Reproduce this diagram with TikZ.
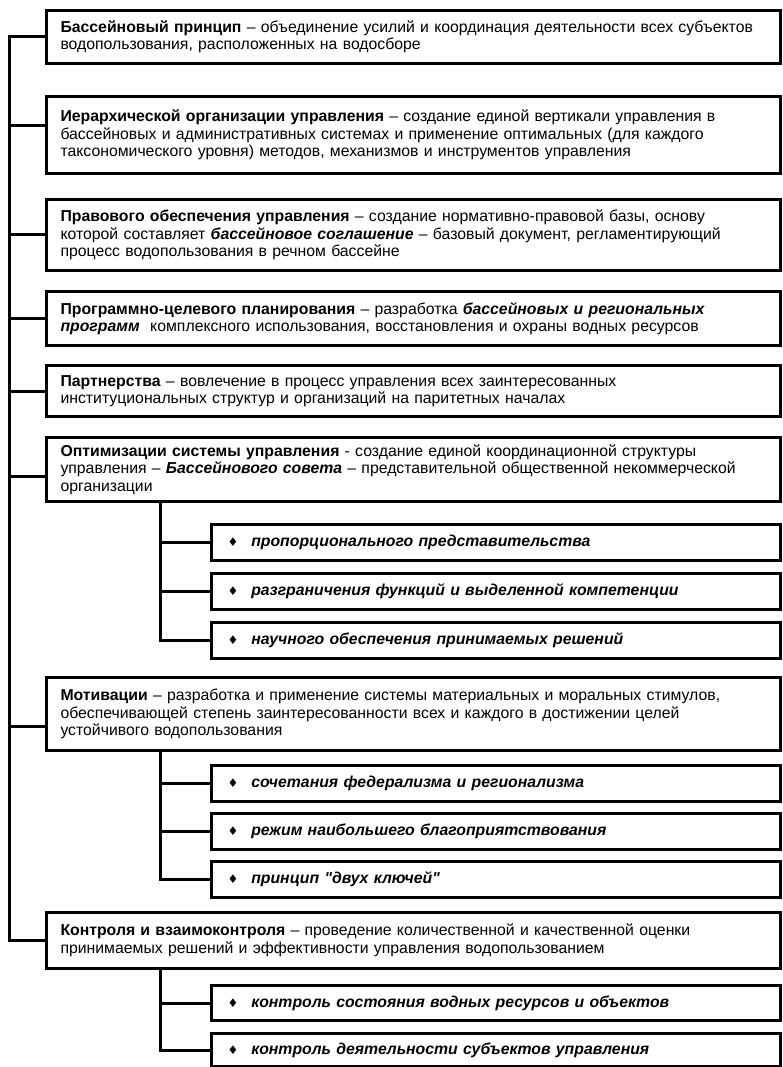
\documentclass[tikz,border=0pt]{standalone}
\usepackage{fontspec}
\setmainfont{Liberation Sans}[Ligatures=TeXOff]
\newfontfamily\symfont{DejaVu Sans}
\usetikzlibrary{calc}
\tikzset{
  mainbox/.style={draw, line width=3pt, anchor=north west, minimum width=734pt,
    text width=706pt, inner xsep=14pt, inner ysep=0pt, align=left,
    font=\fontsize{15.8}{17.5}\selectfont},
  subbox/.style={draw, line width=3pt, anchor=north west, minimum width=569pt,
    text width=537pt, inner xsep=16pt, inner ysep=0pt, align=left,
    font=\fontsize{15.8}{17.5}\selectfont\bfseries\itshape},
  conn/.style={line width=3pt},
}
\newcommand{\bul}{{\symfont\upshape\fontsize{12}{12}\selectfont ♦}\hspace{13pt}}
\begin{document}
\begin{tikzpicture}[x=1pt,y=-1pt]
\useasboundingbox (0,0) rectangle (782,1067);
\coordinate (T) at (9,0);
\coordinate (S) at (160,0);

\node[mainbox, minimum height=53pt] (b1) at (45,9)
 {\textbf{Бассейновый принцип} – объединение усилий и координация деятельности всех субъектов\\
  водопользования, расположенных на водосборе};
\node[mainbox, minimum height=77pt] (b2) at (45,95)
 {\textbf{Иерархической организации управления} – создание единой вертикали управления в\\
  бассейновых и административных системах и применение оптимальных (для каждого\\
  таксономического уровня) методов, механизмов и инструментов управления};
\node[mainbox, minimum height=71pt] (b3) at (45,198)
 {\textbf{Правового обеспечения управления} – создание нормативно-правовой базы, основу\\
  которой составляет \textbf{\textit{бассейновое соглашение}} – базовый документ, регламентирующий\\
  процесс водопользования в речном бассейне};
\node[mainbox, minimum height=54pt] (b4) at (45,290)
 {\textbf{Программно-целевого планирования} – разработка \textbf{\textit{бассейновых и региональных}}\\
  \textbf{\textit{программ}}\ \ комплексного использования, восстановления и охраны водных ресурсов};
\node[mainbox, minimum height=51pt] (b5) at (45,364)
 {\textbf{Партнерства} – вовлечение в процесс управления всех заинтересованных\\
  институциональных структур и организаций на паритетных началах};
\node[mainbox, minimum height=64pt] (b6) at (45,436)
 {\textbf{Оптимизации системы управления} - создание единой координационной структуры\\
  управления – \textbf{\textit{Бассейнового совета}} – представительной общественной некоммерческой\\
  организации};
\node[subbox, minimum height=36pt] (s6a) at (210,523) {\bul пропорционального представительства};
\node[subbox, minimum height=36pt] (s6b) at (210,572) {\bul разграничения функций и выделенной компетенции};
\node[subbox, minimum height=36pt] (s6c) at (210,621) {\bul научного обеспечения принимаемых решений};
\node[mainbox, minimum height=73pt] (b7) at (45,676)
 {\textbf{Мотивации} – разработка и применение системы материальных и моральных стимулов,\\
  обеспечивающей степень заинтересованности всех и каждого в достижении целей\\
  устойчивого водопользования};
\node[subbox, minimum height=36pt] (s7a) at (210,764) {\bul сочетания федерализма и регионализма};
\node[subbox, minimum height=36pt] (s7b) at (210,812) {\bul режим наибольшего благоприятствования};
\node[subbox, minimum height=36pt] (s7c) at (210,860) {\bul принцип "двух ключей"};
\node[mainbox, minimum height=56pt] (b8) at (45,911)
 {\textbf{Контроля и взаимоконтроля} – проведение количественной и качественной оценки\\
  принимаемых решений и эффективности управления водопользованием};
\node[subbox, minimum height=35pt] (s8a) at (210,984) {\bul контроль состояния водных ресурсов и объектов};
\node[subbox, minimum height=33pt] (s8b) at (210,1032) {\bul контроль деятельности субъектов управления};

% attachment points on main boxes
\coordinate (c2) at ($(b2.north west)!0.38!(b2.south west)$);
\coordinate (c6) at ($(b6.north west)!0.6!(b6.south west)$);
\coordinate (c7) at ($(b7.north west)!0.67!(b7.south west)$);

% main trunk
\draw[conn] (b1.west) -- (b1.west -| T) -- (b8.west -| T) -- (b8.west);
\draw[conn] (T |- c2) -- (c2);
\draw[conn] (T |- b3.west) -- (b3.west);
\draw[conn] (T |- b4.west) -- (b4.west);
\draw[conn] (T |- b5.west) -- (b5.west);
\draw[conn] (T |- c6) -- (c6);
\draw[conn] (T |- c7) -- (c7);

% sub trunks
\draw[conn] (b6.south -| S) -- (s6c.west -| S) -- (s6c.west);
\draw[conn] (S |- s6a.west) -- (s6a.west);
\draw[conn] (S |- s6b.west) -- (s6b.west);
\draw[conn] (b7.south -| S) -- (s7c.west -| S) -- (s7c.west);
\draw[conn] (S |- s7a.west) -- (s7a.west);
\draw[conn] (S |- s7b.west) -- (s7b.west);
\draw[conn] (b8.south -| S) -- (s8b.west -| S) -- (s8b.west);
\draw[conn] (S |- s8a.west) -- (s8a.west);
\end{tikzpicture}
\end{document}
